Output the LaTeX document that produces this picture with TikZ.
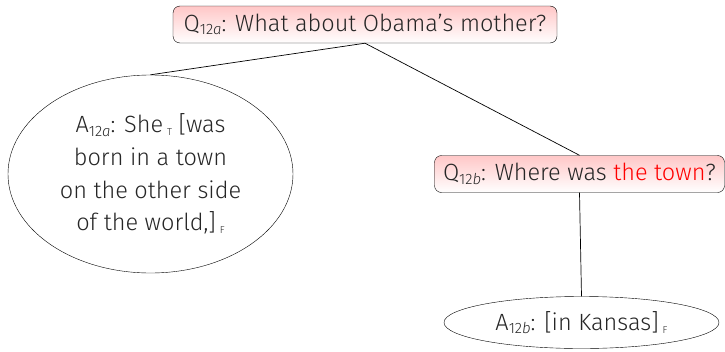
\documentclass[tikz,border=0pt]{standalone}
\usepackage{fontspec}
\setmainfont{Fira Sans}[UprightFont={* Light},ItalicFont={* Light Italic}]
\usetikzlibrary{shapes.geometric}
\tikzset{
  qbox/.style={draw, rounded corners=7pt, top color=red!22, bottom color=white, inner xsep=2pt, inner ysep=1pt, minimum height=37pt},
  aell/.style={draw, ellipse, inner sep=0pt, align=center},
  edge/.style={draw, line width=0.7pt}
}
\newcommand{\tg}[1]{\raisebox{-0.25ex}{\fontsize{10}{10}\selectfont #1}}
\newcommand{\idx}[2]{#1\raisebox{-0.3ex}{\fontsize{15}{15}\selectfont 12\textit{#2}}}
\begin{document}
\begin{tikzpicture}[x=1pt,y=-1pt, every node/.style={font=\fontsize{23.5}{32.7}\selectfont, text=black!85}]
\useasboundingbox (0,0) rectangle (725,351);
\node[qbox, minimum width=384pt] (q1) at (365,24.5) {\idx{Q}{a}: What about Obama’s mother?};
\node[aell, minimum width=285pt, minimum height=198pt] (a1) at (150.5,174) {\idx{A}{a}: She\,\tg{T} [was\\born in a town\\on the other side\\of the world,]\,\tg{F}};
\node[qbox, minimum width=290pt] (q2) at (579.5,174) {\idx{Q}{b}: Where was \textcolor{red}{the town}?};
\node[aell, minimum width=275pt, minimum height=52pt] (a2) at (581.5,322.5) {\idx{A}{b}: [in Kansas]\,\tg{F}};
\draw[edge] (q1.south) -- (a1.north);
\draw[edge] (q1.south) -- (q2.north);
\draw[edge] (q2.south) -- (a2.north);
\end{tikzpicture}
\end{document}
